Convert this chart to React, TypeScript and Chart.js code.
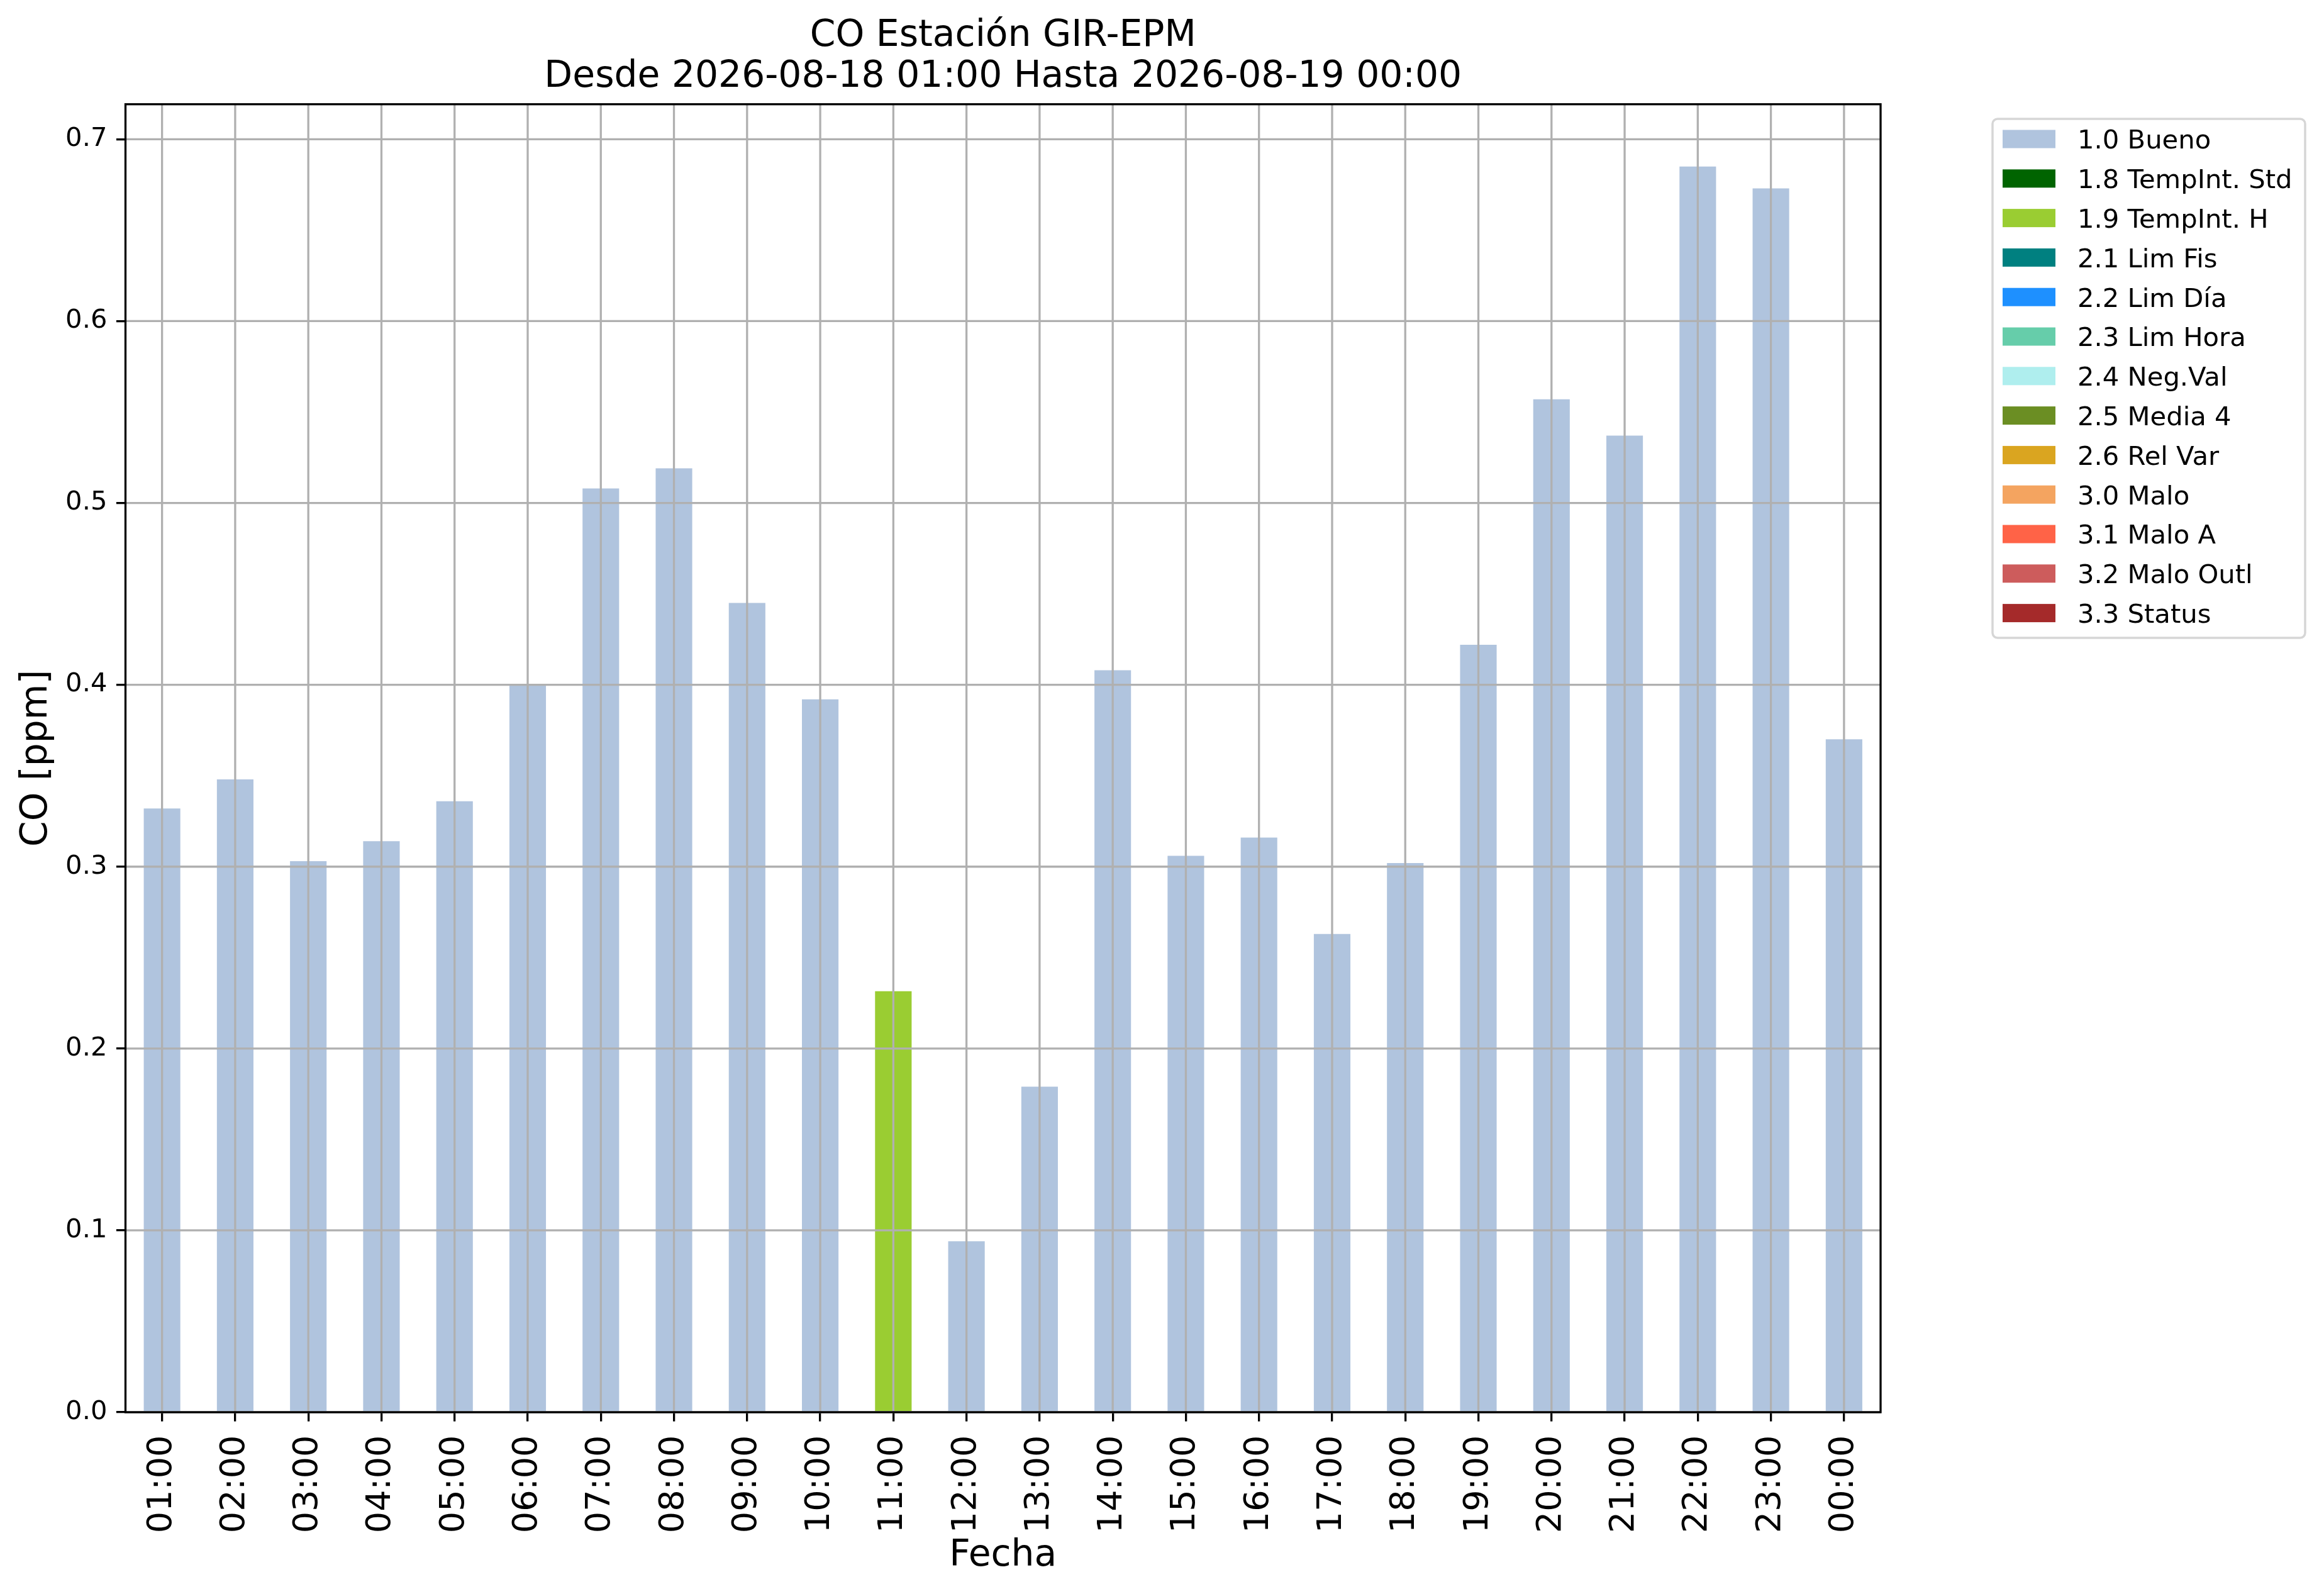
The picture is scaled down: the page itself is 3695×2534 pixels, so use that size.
import { useEffect, useRef } from 'react';
import { Chart, registerables } from 'chart.js';

Chart.register(...registerables);

const W = 3695;
const H = 2534;

// hourly labels and CO readings [ppm]
const hours = [
  '01:00', '02:00', '03:00', '04:00', '05:00', '06:00', '07:00', '08:00',
  '09:00', '10:00', '11:00', '12:00', '13:00', '14:00', '15:00', '16:00',
  '17:00', '18:00', '19:00', '20:00', '21:00', '22:00', '23:00', '00:00',
];
const coValues = [
  0.332, 0.348, 0.303, 0.314, 0.336, 0.400, 0.508, 0.519,
  0.445, 0.392, 0.2315, 0.094, 0.179, 0.408, 0.306, 0.316,
  0.263, 0.302, 0.422, 0.557, 0.537, 0.685, 0.673, 0.370,
];
// quality flag for each hour
const hourFlags = [
  '1.0', '1.0', '1.0', '1.0', '1.0', '1.0', '1.0', '1.0',
  '1.0', '1.0', '1.9', '1.0', '1.0', '1.0', '1.0', '1.0',
  '1.0', '1.0', '1.0', '1.0', '1.0', '1.0', '1.0', '1.0',
];

const flagCodes = ['1.0', '1.8', '1.9', '2.1', '2.2', '2.3', '2.4', '2.5', '2.6', '3.0', '3.1', '3.2', '3.3'];
const flagNames = [
  '1.0 Bueno', '1.8 TempInt. Std', '1.9 TempInt. H', '2.1 Lim Fis', '2.2 Lim Día',
  '2.3 Lim Hora', '2.4 Neg.Val', '2.5 Media 4', '2.6 Rel Var', '3.0 Malo',
  '3.1 Malo A', '3.2 Malo Outl', '3.3 Status',
];
const flagColors = [
  '#b0c4de', '#006400', '#9acd32', '#008080', '#1e90ff', '#66cdaa', '#afeeee',
  '#6b8e23', '#daa520', '#f4a460', '#ff6347', '#cd5c5c', '#a52a2a',
];

const FONT = "'DejaVu Sans', sans-serif";
const GRID = '#b0b0b0';
const LW = 3.3;

const overlay = {
  id: 'overlay',
  afterDatasetsDraw(chart: any) {
    const { ctx, chartArea: a, scales } = chart;
    const x = scales.x;
    const y = scales.y;
    ctx.save();
    ctx.strokeStyle = GRID;
    ctx.lineWidth = LW;
    ctx.beginPath();
    hours.forEach((_, i) => {
      const px = x.getPixelForValue(i);
      ctx.moveTo(px, a.top);
      ctx.lineTo(px, a.bottom);
    });
    y.ticks.forEach((t: any) => {
      const py = y.getPixelForValue(t.value);
      ctx.moveTo(a.left, py);
      ctx.lineTo(a.right, py);
    });
    ctx.stroke();
    ctx.strokeStyle = '#000';
    ctx.strokeRect(a.left, a.top, a.right - a.left, a.bottom - a.top);
    ctx.restore();
  },
  afterDraw(chart: any) {
    const { ctx, chartArea: a } = chart;
    const left = a.right + 178;
    const top = a.top + 23.3;
    ctx.save();
    ctx.fillStyle = 'rgba(255,255,255,0.8)';
    ctx.strokeStyle = '#d6d6d6';
    ctx.lineWidth = 3.5;
    ctx.beginPath();
    ctx.roundRect(left, top, 497, 825, 8);
    ctx.fill();
    ctx.stroke();
    ctx.font = `41.7px ${FONT}`;
    ctx.textBaseline = 'alphabetic';
    ctx.textAlign = 'left';
    chart.data.datasets.forEach((ds: any, i: number) => {
      const cy = top + 32 + i * 62.8;
      ctx.fillStyle = ds.backgroundColor;
      ctx.fillRect(left + 16, cy - 14.5, 84, 29);
      ctx.fillStyle = '#000';
      ctx.fillText(ds.label, left + 135, cy + 15.4);
    });
    ctx.restore();
  },
};

export default function App() {
  const canvasRef = useRef<HTMLCanvasElement>(null);

  useEffect(() => {
    document.body.style.margin = '0';
    if (!canvasRef.current) return;

    const datasets = flagCodes.map((code, k) => ({
      label: flagNames[k],
      data: coValues.map((v, i) => (hourFlags[i] === code ? v : null)),
      backgroundColor: flagColors[k],
      borderWidth: 0,
      categoryPercentage: 1,
      barPercentage: 0.5,
    }));

    const yMax = Math.max(...coValues) * 1.05;

    const chart = new Chart(canvasRef.current, {
      type: 'bar',
      data: { labels: hours, datasets },
      options: {
        responsive: false,
        animation: false,
        devicePixelRatio: 1,
        layout: { padding: { left: 0, right: W - 2990, top: 0, bottom: 0 } },
        plugins: {
          legend: { display: false },
          tooltip: { enabled: false },
          title: {
            display: true,
            fullSize: false,
            text: ['CO Estación GIR-EPM', 'Desde 2026-08-18 01:00 Hasta 2026-08-19 00:00'],
            color: '#000',
            font: { family: FONT, size: 58.3, weight: 'normal', lineHeight: 1.106 },
            padding: { top: 25.75, bottom: 11 },
          },
        },
        scales: {
          x: {
            stacked: true,
            afterFit: (s: any) => { s.height = H - 2245; },
            grid: {
              display: true,
              offset: false,
              drawOnChartArea: false,
              drawTicks: true,
              tickLength: 14.6,
              tickColor: '#000',
              tickWidth: LW,
              lineWidth: LW,
              color: GRID,
            },
            border: { display: false },
            ticks: {
              autoSkip: false,
              minRotation: 90,
              maxRotation: 90,
              padding: 22,
              color: '#000',
              font: { family: FONT, size: 54 },
            },
            title: {
              display: true,
              text: 'Fecha',
              color: '#000',
              font: { family: FONT, size: 58.3, lineHeight: 1.2 },
              padding: { top: 0, bottom: 25.5 },
            },
          },
          y: {
            stacked: true,
            min: 0,
            max: yMax,
            afterFit: (s: any) => { s.width = 199.5; },
            grid: {
              display: true,
              drawOnChartArea: false,
              drawTicks: true,
              tickLength: 14.6,
              tickColor: '#000',
              tickWidth: LW,
              lineWidth: LW,
              color: GRID,
            },
            border: { display: false },
            ticks: {
              stepSize: 0.1,
              includeBounds: false,
              padding: 14.5,
              color: '#000',
              font: { family: FONT, size: 41.7 },
              callback: (v: any) => Number(v).toFixed(1),
            },
            title: {
              display: true,
              text: 'CO [ppm]',
              color: '#000',
              font: { family: FONT, size: 58.3, lineHeight: 1.2 },
              padding: { top: 24, bottom: 0 },
            },
          },
        },
      },
      plugins: [overlay],
    });

    return () => chart.destroy();
  }, []);

  return (
    <div style={{ width: W, height: H, background: '#fff' }}>
      <canvas ref={canvasRef} width={W} height={H} style={{ width: W, height: H }} />
    </div>
  );
}
